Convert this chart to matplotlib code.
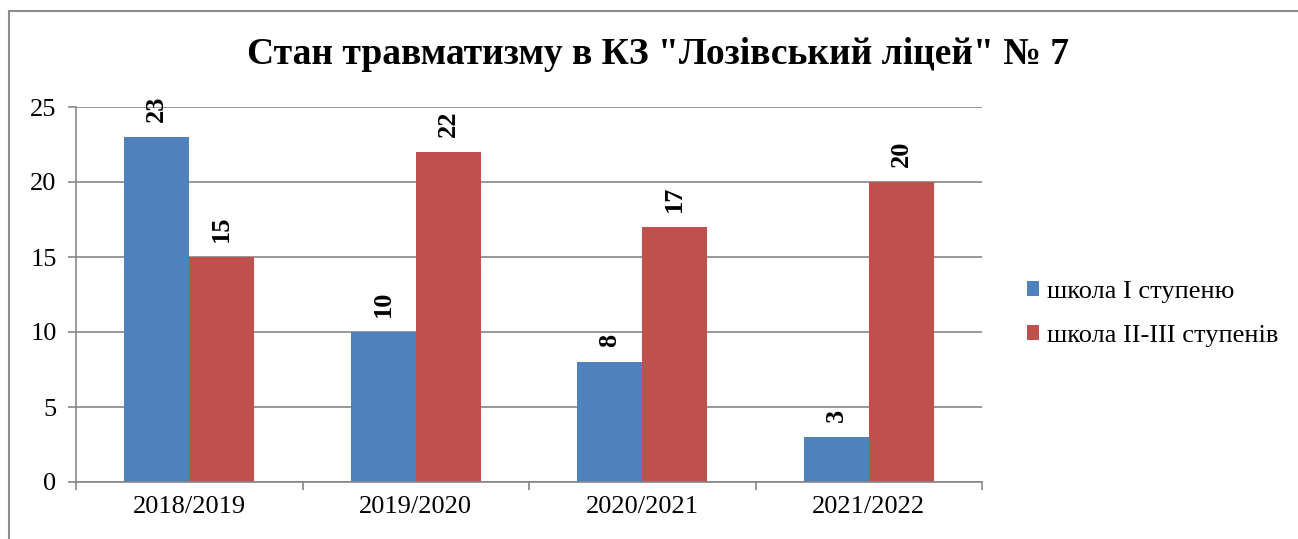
import matplotlib
matplotlib.use("Agg")
import matplotlib.pyplot as plt
import numpy as np
from matplotlib.lines import Line2D

categories = ["2018/2019", "2019/2020", "2020/2021", "2021/2022"]
series1_name = "школа I ступеню"
series2_name = "школа II-III ступенів"
series1 = [23, 10, 8, 3]
series2 = [15, 22, 17, 20]
yticks = [0, 5, 10, 15, 20, 25]
title = 'Стан травматизму в КЗ "Лозівський ліцей" № 7'

plt.rcParams['font.family'] = ['Liberation Serif', 'DejaVu Serif']

W, H = 1298, 539
fig = plt.figure(figsize=(W / 100, H / 100), dpi=100)
ax = fig.add_axes([76 / W, 1 - 482 / H, (982 - 76) / W, (482 - 107) / H])

blue = "#4F81BD"
red = "#C0504D"
grid_c = "#868686"

x = np.arange(len(categories))
bw = 0.287
b1 = ax.bar(x - bw / 2, series1, bw, color=blue, label=series1_name, zorder=2)
b2 = ax.bar(x + bw / 2, series2, bw, color=red, label=series2_name, zorder=2)

for bars, vals in ((b1, series1), (b2, series2)):
    for r, v in zip(bars, vals):
        ax.annotate(str(v), (r.get_x() + r.get_width() / 2, r.get_height()),
                    xytext=(0, 11), textcoords="offset points",
                    ha="center", va="bottom", rotation=90,
                    fontsize=19, fontweight="bold", zorder=3)

ax.set_xlim(-0.5, len(categories) - 0.5)
ax.set_ylim(0, 25)
ax.set_yticks(yticks)
ax.set_xticks(x)
ax.set_xticklabels(categories)
ax.set_xticks(np.arange(len(categories) + 1) - 0.5, minor=True)
ax.tick_params(axis="x", which="major", length=0, pad=10, labelsize=19)
ax.tick_params(axis="x", which="minor", length=6, width=1.2, color=grid_c, direction="out")
ax.tick_params(axis="y", length=6, width=1.2, color=grid_c, direction="out", pad=8, labelsize=19)

ax.yaxis.grid(True, color=grid_c, linewidth=1.2, zorder=0)
ax.set_axisbelow(True)
for s in ("top", "right"):
    ax.spines[s].set_visible(False)
for s in ("left", "bottom"):
    ax.spines[s].set_color(grid_c)
    ax.spines[s].set_linewidth(1.2)

fig.text(658 / W, 1 - 55 / H, title, ha="center", va="center",
         fontsize=27, fontweight="bold")

leg = fig.legend(handles=[b1, b2], loc="center left",
                 bbox_to_anchor=(1016 / W, 1 - 314 / H),
                 frameon=False, fontsize=19, handlelength=0.48, handleheight=0.48,
                 handletextpad=0.28, labelspacing=0.85, borderaxespad=0)

fig.add_artist(Line2D([9 / W, 1], [1 - 11 / H, 1 - 11 / H], color="#8c8c8c", lw=1.5, transform=fig.transFigure))
fig.add_artist(Line2D([9 / W, 9 / W], [0, 1 - 11 / H], color="#8c8c8c", lw=1.5, transform=fig.transFigure))

fig.savefig("out.png", dpi=100)
